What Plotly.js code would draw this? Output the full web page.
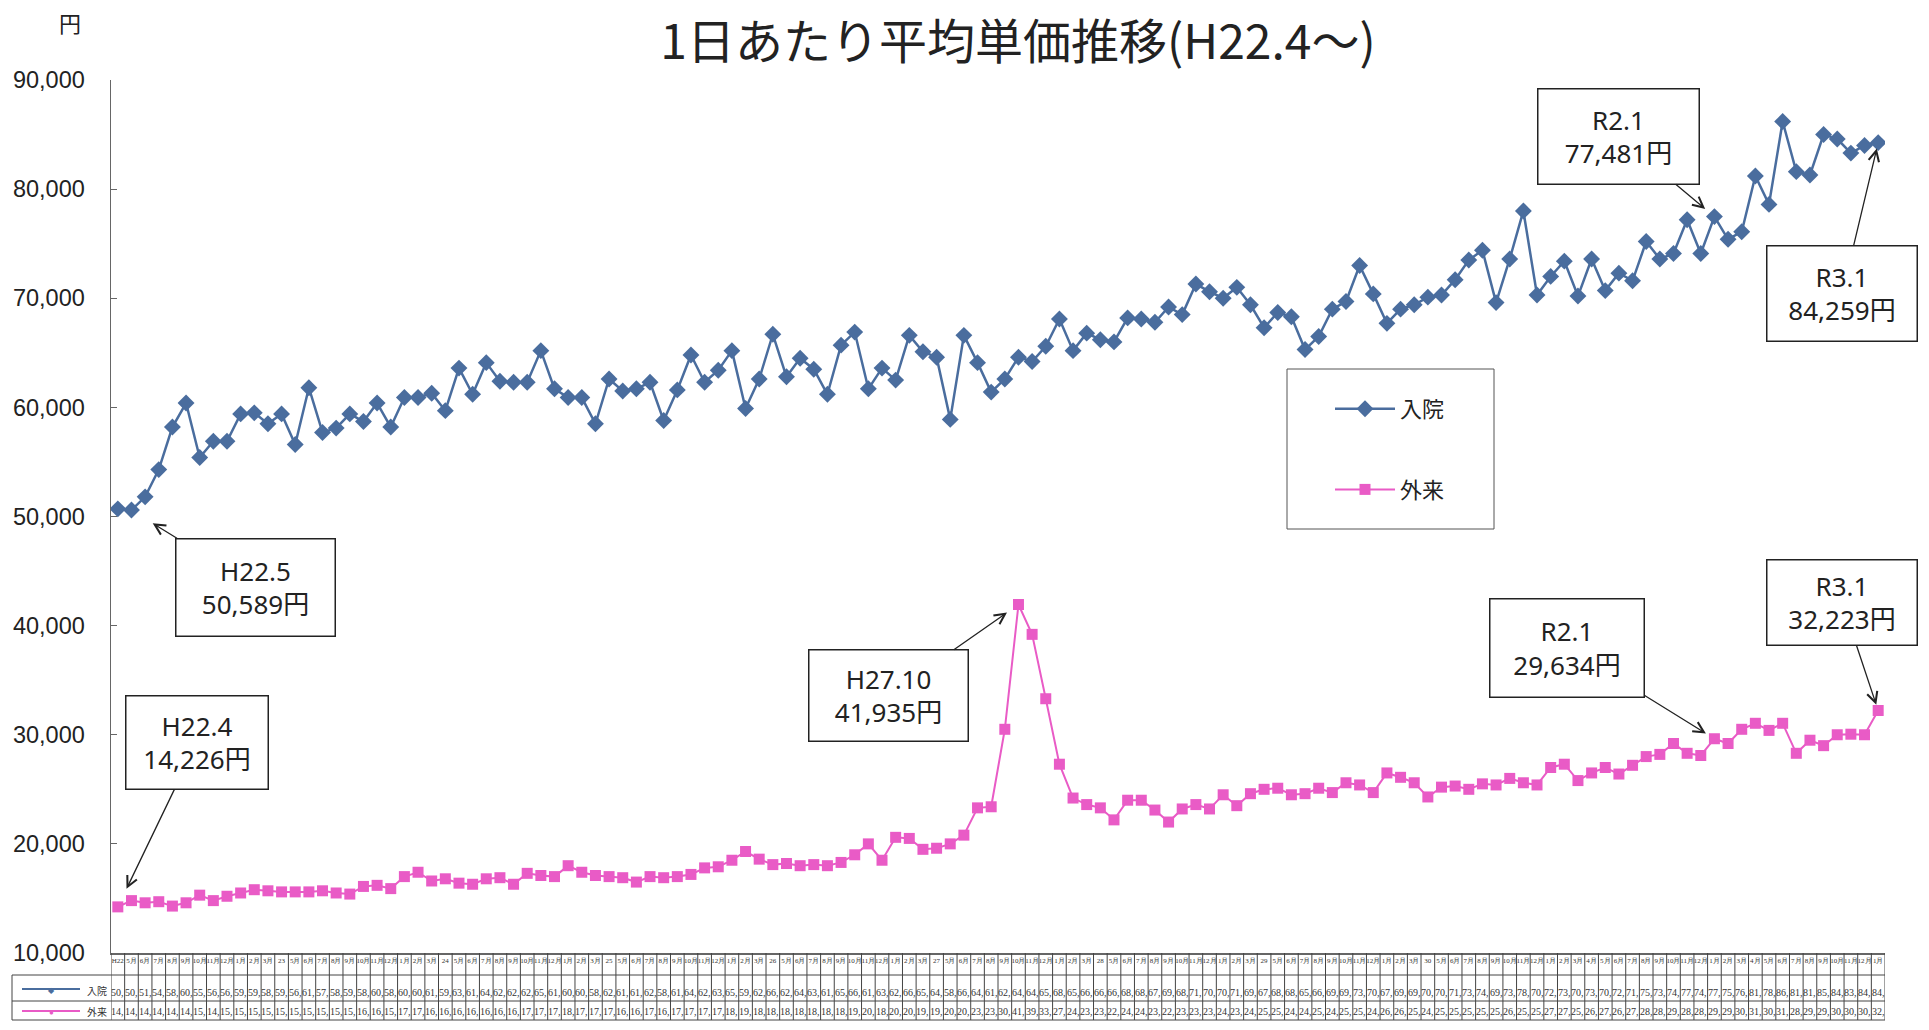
<!DOCTYPE html>
<html><head><meta charset="utf-8">
<script src="https://cdn.plot.ly/plotly-3.0.1.min.js"></script>
<style>html,body{margin:0;padding:0;background:#fff}#chart{width:1929px;height:1030px}</style>
</head><body><div id="chart"></div>
<script>
// ---- data (yen per day), April 2010 (H22.4) .. January 2021 (R3.1) ----
const inpatient = [
50700,50589,51800,54300,58200,60400,55400,56900,56900,59400,59500,58500,
59400,56600,61800,57700,58100,59400,58700,60400,58200,60900,60900,61300,
59700,63600,61200,64100,62400,62300,62300,65200,61700,60900,60900,58500,
62600,61500,61700,62300,58800,61600,64800,62300,63400,65200,59900,62600,
66700,62800,64500,63500,61200,65700,66900,61700,63600,62500,66600,65100,
64600,58900,66600,64100,61400,62600,64600,64200,65600,68100,65200,66800,
66200,66000,68200,68100,67800,69200,68500,71300,70600,70000,71000,69400,
67300,68700,68300,65300,66500,69000,69700,73000,70400,67700,69000,69400,
70100,70300,71700,73500,74400,69600,73600,78000,70300,72000,73400,70200,
73600,70700,72300,71600,75200,73600,74100,77200,74100,77481,75400,76100,
81200,78600,86200,81600,81300,85000,84600,83300,84000,84259];
const outpatient = [
14226,14800,14600,14700,14300,14600,15300,14800,15200,15500,15800,15700,
15600,15600,15600,15700,15500,15400,16100,16200,15900,17000,17400,16600,
16800,16400,16300,16800,16900,16300,17300,17100,17000,18000,17400,17100,
17000,16900,16500,17000,16900,17000,17200,17800,17900,18500,19300,18600,
18100,18200,18000,18100,18000,18300,19000,20000,18500,20600,20500,19500,
19600,20000,20800,23300,23400,30500,41935,39200,33300,27300,24200,23600,
23300,22200,24000,24000,23100,22000,23200,23600,23200,24500,23500,24600,
25000,25100,24500,24600,25100,24700,25600,25400,24700,26500,26100,25600,
24300,25200,25300,25000,25500,25400,26000,25600,25400,27000,27300,25800,
26500,27000,26400,27200,28000,28200,29200,28300,28100,29634,29200,30500,
31050,30400,31050,28300,29500,29000,30000,30050,30000,32223];
const seriesNames = ['入院','外来'];
const fyHeads = ['H22','23','24','25','26','27','28','29','30','4月','4月'];
const monthHeads = ['4月','5月','6月','7月','8月','9月','10月','11月','12月','1月','2月','3月'];
const titleText = '1日あたり平均単価推移(H22.4～)';
const unitText = '円';

// ---- categories ----
const N = inpatient.length;
const cats = [], heads = [];
for (let i = 0; i < N; i++) {
  const y = 2010 + Math.floor((3 + i) / 12), m = (3 + i) % 12 + 1;
  const era = (y < 2019 || (y === 2019 && m < 5)) ? 'H' + (y - 1988) : 'R' + (y - 2018);
  cats.push(era + '.' + m);
  heads.push(i % 12 === 0 ? fyHeads[i / 12] : monthHeads[i % 12]);
}

// ---- geometry ----
const W = 1929, H = 1030, L = 111, R = 44, T = 80, B = 77;
const pw = W - L - R, ph = H - T - B;
const px = v => (v - L) / pw, py = v => (H - B - v) / ph;

const blue = '#4a6d9e', pink = '#e95bc6';
const ink = '#222';

const traces = [
  {x: cats, y: inpatient, name: seriesNames[0], type: 'scatter', mode: 'lines+markers',
   legendgroup: 'a', line: {color: blue, width: 2.5},
   marker: {symbol: 'diamond', size: 13, color: blue}},
  {x: cats, y: outpatient, name: seriesNames[1], type: 'scatter', mode: 'lines+markers',
   legendgroup: 'b', line: {color: pink, width: 2},
   marker: {symbol: 'square', size: 11, color: pink}}
];

const shapes = [];
const lc = '#444';
for (let i = 0; i <= N; i++) {
  shapes.push({type: 'line', xref: 'x', yref: 'paper', x0: i - 0.5, x1: i - 0.5,
               y0: 0, y1: py(1020), line: {color: lc, width: 1}});
}
[975, 1001, 1020].forEach(v => shapes.push({type: 'line', xref: 'paper', yref: 'paper',
  x0: px(12), x1: 1, y0: py(v), y1: py(v), line: {color: lc, width: 1}}));
shapes.push({type: 'line', xref: 'paper', yref: 'paper', x0: px(12), x1: px(12),
  y0: py(975), y1: py(1020), line: {color: lc, width: 1}});
// legend-key samples in the table
shapes.push({type: 'line', xref: 'paper', yref: 'paper', x0: px(22), x1: px(80),
  y0: py(989), y1: py(989), line: {color: blue, width: 2}});
shapes.push({type: 'line', xref: 'paper', yref: 'paper', x0: px(22), x1: px(80),
  y0: py(1011), y1: py(1011), line: {color: pink, width: 2}});
// legend frame
shapes.push({type: 'rect', xref: 'paper', yref: 'paper', x0: px(1287), x1: px(1494),
  y0: py(529), y1: py(369), line: {color: '#555', width: 1}, fillcolor: 'rgba(0,0,0,0)'});

const annotations = [];
const cellFont = {family: 'Liberation Serif, serif', size: 10, color: '#333'};
const mid = {xanchor: 'center', yanchor: 'middle', showarrow: false};
for (let i = 0; i < N; i++) {
  annotations.push(Object.assign({x: cats[i], y: py(992), xref: 'x', yref: 'paper',
    text: Math.floor(inpatient[i] / 1000) + ',', font: cellFont}, mid));
  annotations.push(Object.assign({x: cats[i], y: py(1011), xref: 'x', yref: 'paper',
    text: Math.floor(outpatient[i] / 1000) + ',', font: cellFont}, mid));
}
annotations.push(Object.assign({x: px(51), y: py(989), xref: 'paper', yref: 'paper',
  text: '◆', font: {size: 8, color: blue}}, mid));
annotations.push(Object.assign({x: px(51), y: py(1011), xref: 'paper', yref: 'paper',
  text: '●', font: {size: 8, color: pink}}, mid));
annotations.push(Object.assign({x: px(97), y: py(990), xref: 'paper', yref: 'paper',
  text: seriesNames[0], font: {size: 10, color: '#333', family: 'Noto Sans CJK JP'}}, mid));
annotations.push(Object.assign({x: px(97), y: py(1011), xref: 'paper', yref: 'paper',
  text: seriesNames[1], font: {size: 10, color: '#333', family: 'Noto Sans CJK JP'}}, mid));
annotations.push(Object.assign({x: px(70), y: py(22), xref: 'paper', yref: 'paper',
  text: unitText, font: {size: 22, color: ink, family: 'Noto Sans CJK JP'}}, mid));

// callouts: series, index, box offset (px), box size, standoff
const callouts = [
  {s: 0, i: 1,   ax: 124,  ay: 77,   w: 160, h: 98, so: 25},
  {s: 1, i: 0,   ax: 79,   ay: -164, w: 143, h: 94, so: 20},
  {s: 1, i: 66,  ax: -130, ay: 91,   w: 160, h: 92, so: 14},
  {s: 0, i: 117, ax: -96,  ay: -80,  w: 162, h: 96, so: 12},
  {s: 0, i: 129, ax: -36,  ay: 151,  w: 151, h: 96, so: 6},
  {s: 1, i: 117, ax: -147, ay: -91,  w: 155, h: 99, so: 10},
  {s: 1, i: 129, ax: -36,  ay: -108, w: 151, h: 86, so: 6}
];
callouts.forEach(c => {
  const vals = c.s === 0 ? inpatient : outpatient;
  annotations.push({x: cats[c.i], y: vals[c.i], xref: 'x', yref: 'y',
    text: cats[c.i] + '<br>' + vals[c.i].toLocaleString('en-US') + '円',
    showarrow: true, arrowhead: 5, arrowsize: 1.6, arrowwidth: 1.3, arrowcolor: '#222',
    ax: c.ax, ay: c.ay, standoff: c.so, width: c.w - 2, height: c.h - 2,
    bgcolor: '#fff', bordercolor: '#222', borderwidth: 1.5, borderpad: 0,
    font: {family: 'Noto Sans, Noto Sans CJK JP', size: 26, color: ink}});
});

const layout = {
  width: W, height: H,
  margin: {l: L, r: R, t: T, b: B},
  paper_bgcolor: '#fff', plot_bgcolor: '#fff',
  title: {text: titleText, x: 1018 / W, xanchor: 'center', y: 1 - 42 / H, yanchor: 'middle',
          font: {family: 'Noto Sans CJK JP', size: 48, color: ink}},
  showlegend: true,
  legend: {x: px(1330), y: py(388), xanchor: 'left', yanchor: 'top',
           bgcolor: 'rgba(0,0,0,0)', borderwidth: 0, tracegroupgap: 49, itemwidth: 60,
           font: {family: 'Noto Sans CJK JP', size: 22, color: ink}},
  xaxis: {type: 'category', range: [-0.5, N - 0.5], showgrid: false, zeroline: false,
          showline: true, linecolor: '#666', linewidth: 1.5,
          tickmode: 'array', tickvals: cats, ticktext: heads, tickangle: 0,
          ticks: '', tickfont: {family: 'Liberation Serif, serif', size: 7, color: '#333'}},
  yaxis: {range: [10000, 90000], dtick: 10000, tickformat: ',d', showgrid: false, zeroline: false,
          showline: true, linecolor: '#666', linewidth: 1.5, ticks: 'inside', ticklen: 6,
          tickcolor: '#666', ticklabelstandoff: 20,
          tickfont: {family: 'Liberation Sans, Arial', size: 23.5, color: ink}},
  shapes: shapes, annotations: annotations
};
Plotly.newPlot('chart', traces, layout, {displayModeBar: false, staticPlot: true});
</script></body></html>
